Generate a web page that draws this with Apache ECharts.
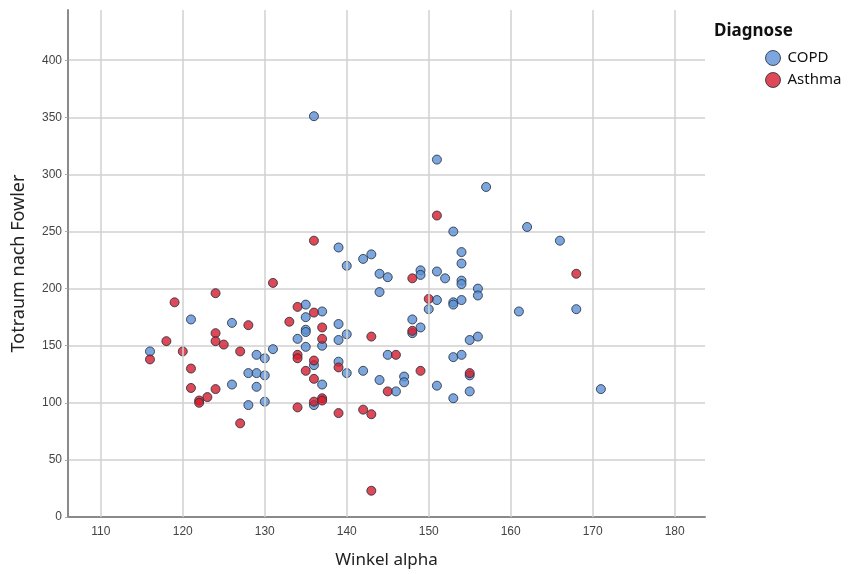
<!DOCTYPE html>
<html>
<head>
<meta charset="utf-8">
<script src="https://cdn.jsdelivr.net/npm/echarts@6/dist/echarts.min.js"></script>
<style>
  html, body { margin: 0; padding: 0; background: #fff; }
  #chart { width: 857px; height: 574px; }
</style>
</head>
<body>
<div id="chart"></div>
<script>
// Winkel alpha (x) / Totraum nach Fowler (y)
const copdX = [116, 121, 126, 126, 128, 128, 129, 129, 129, 130, 130, 130, 131, 134, 135, 135, 135, 135, 135,
  136, 136, 136, 137, 137, 137, 139, 139, 139, 139, 140, 140, 140, 142, 142, 143, 144, 144, 144, 145, 145,
  146, 147, 147, 148, 148, 149, 149, 149, 150, 151, 151, 151, 151, 152, 153, 153, 153, 153, 153,
  154, 154, 154, 154, 154, 154, 155, 155, 155, 156, 156, 156, 157, 161, 162, 166, 168, 171];
const copdY = [145, 173, 170, 116, 126, 98, 142, 126, 114, 139, 124, 101, 147, 156, 186, 175, 164, 162, 149,
  351, 133, 98, 180, 150, 116, 236, 169, 155, 136, 220, 160, 126, 226, 128, 230, 213, 197, 120, 210, 142,
  110, 123, 118, 173, 161, 216, 212, 166, 182, 313, 215, 190, 115, 209, 250, 188, 186, 140, 104,
  232, 222, 207, 204, 190, 142, 155, 124, 110, 200, 194, 158, 289, 180, 254, 242, 182, 112];

const asthmaX = [116, 118, 119, 120, 121, 121, 122, 122, 123, 124, 124, 124, 124, 125, 127, 127, 128, 131,
  133, 134, 134, 134, 134, 135, 136, 136, 136, 136, 136, 137, 137, 137, 137, 139, 139, 142, 143, 143, 143,
  145, 146, 148, 148, 149, 150, 151, 155, 168];
const asthmaY = [138, 154, 188, 145, 130, 113, 102, 100, 105, 196, 161, 154, 112, 151, 145, 82, 168, 205,
  171, 184, 142, 139, 96, 128, 242, 179, 137, 121, 101, 166, 156, 104, 102, 131, 91, 94, 158, 90, 23,
  110, 142, 209, 163, 128, 191, 264, 126, 213];

const xTicks = [110, 120, 130, 140, 150, 160, 170, 180];

const pairs = (xs, ys) => xs.map((x, i) => [x, ys[i]]);

const chart = echarts.init(document.getElementById('chart'));

const pointStyle = (fill) => ({
  color: fill,
  borderColor: '#1e2a38',
  borderWidth: 1
});

const option = {
  animation: false,
  backgroundColor: '#fff',
  grid: { left: 68, top: 10, right: 152, bottom: 57 },
  xAxis: {
    type: 'value',
    min: 106,
    max: 183.7,
    name: 'Winkel alpha',
    nameLocation: 'middle',
    nameGap: 35,
    nameTextStyle: { fontFamily: 'Noto Sans', fontSize: 17, color: '#222' },
    axisLine: { show: true, lineStyle: { color: '#8a8a8a', width: 2 } },
    axisTick: { show: false },
    splitLine: { show: false },
    axisLabel: {
      customValues: xTicks,
      margin: 9,
      fontFamily: 'Liberation Sans',
      fontSize: 12,
      color: '#444'
    }
  },
  yAxis: {
    type: 'value',
    min: 0,
    max: 444,
    interval: 50,
    name: 'Totraum nach Fowler',
    nameLocation: 'middle',
    nameGap: 40,
    nameTextStyle: { fontFamily: 'Noto Sans', fontSize: 18, color: '#222' },
    axisLine: { show: true, lineStyle: { color: '#8a8a8a', width: 2 } },
    axisTick: { show: true, length: 3, lineStyle: { color: '#aaa' } },
    splitLine: { show: true, showMaxLine: false, lineStyle: { color: '#d0d0d0', width: 1.5 } },
    axisLabel: {
      showMaxLabel: false,
      margin: 6,
      fontFamily: 'Liberation Sans',
      fontSize: 12,
      color: '#444'
    }
  },
  legend: {
    orient: 'vertical',
    left: 760,
    top: 45,
    itemWidth: 15,
    itemHeight: 15,
    itemGap: 6,
    icon: 'circle',
    itemStyle: { borderWidth: 1, borderColor: '#1e2a38' },
    textStyle: { fontFamily: 'Noto Sans', fontSize: 15, color: '#111', padding: [0, 0, 0, 2] },
    data: ['COPD', 'Asthma']
  },
  graphic: [{
    type: 'text',
    left: 714,
    top: 23,
    style: { text: 'Diagnose', font: 'bold 17px "Noto Sans"', fill: '#111' }
  }],
  series: [
    {
      name: 'grid',
      type: 'scatter',
      data: [],
      z: 1,
      silent: true,
      markLine: {
        silent: true,
        symbol: 'none',
        label: { show: false },
        lineStyle: { color: '#d0d0d0', width: 1.5, type: 'solid' },
        data: xTicks.map(v => ({ xAxis: v }))
      }
    },
    {
      name: 'COPD',
      type: 'scatter',
      z: 3,
      symbolSize: 9,
      itemStyle: pointStyle('#5b90d4'),
      data: pairs(copdX, copdY)
    },
    {
      name: 'Asthma',
      type: 'scatter',
      z: 4,
      symbolSize: 9,
      itemStyle: pointStyle('#d41c2c'),
      data: pairs(asthmaX, asthmaY)
    }
  ]
};

chart.setOption(option);
</script>
</body>
</html>
